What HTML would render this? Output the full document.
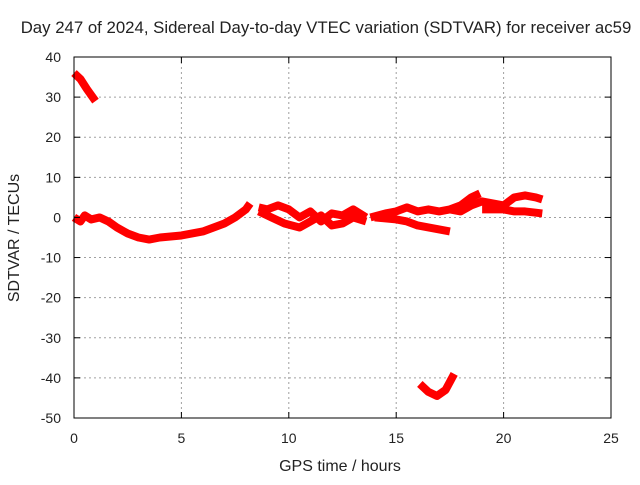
<!DOCTYPE html>
<html><head><meta charset="utf-8"><style>
body{margin:0;background:#fff}
svg text{font-family:"Liberation Sans",sans-serif;font-size:14px;fill:#222}
svg text.big{font-size:16px}
svg text.title{font-size:16.8px}
</style></head><body>
<svg id="chart" width="640" height="480" xmlns="http://www.w3.org/2000/svg">
<rect width="640" height="480" fill="#fff"/>
<g id="grid"></g>
<g id="series"></g>
<rect x="74" y="57" width="537" height="361" fill="none" stroke="#000" stroke-width="1"/>
<g id="ticks"></g>
<text class="title" x="326" y="33" text-anchor="middle">Day 247 of 2024, Sidereal Day-to-day VTEC variation (SDTVAR) for receiver ac59</text>
<text class="big" x="340" y="471" text-anchor="middle">GPS time / hours</text>
<text class="big" transform="translate(19,238) rotate(-90)" text-anchor="middle">SDTVAR / TECUs</text>
</svg>
<script>
const xTicks=[0,5,10,15,20,25];
const yTicks=[40,30,20,10,0,-10,-20,-30,-40,-50];
const sTop=[[0,36],[0.3,34.5],[0.6,32],[1.0,29]];
const sMain=[[0,0],[0.3,-1],[0.5,0.5],[0.8,-0.5],[1.2,0],[1.6,-1],[2,-2.5],[2.5,-4],[3,-5],[3.5,-5.5],[4,-5],[5,-4.5],[6,-3.5],[7,-1.5],[7.5,0],[8,2],[8.2,3.5]];
const sC=[[8.6,1.5],[9.2,0],[9.8,-1.5],[10.5,-2.5],[11,-1],[11.5,0.5],[12,-2],[12.5,-1.5],[13,0],[13.6,-1]];
const sD=[[8.6,2.5],[9,2],[9.5,3],[10,2],[10.5,0],[11,1.5],[11.5,-1],[12,1],[12.5,0.5],[13,2],[13.6,0]];
const sE=[[13.8,0],[14.5,1],[15,1.5],[15.5,2.5],[16,1.5],[16.5,2],[17,1.5],[17.5,2],[18,3],[18.5,5],[18.9,6]];
const sF=[[14,0],[15,-0.5],[15.5,-1],[16,-2],[16.5,-2.5],[17,-3],[17.5,-3.5]];
const sG=[[17.5,2],[18,1.5],[18.5,3],[19,4],[19.5,3.5],[20,3],[20.5,5],[21,5.5],[21.5,5],[21.8,4.5]];
const sH=[[19,2],[19.5,2],[20,2],[20.5,1.5],[21,1.5],[21.8,1]];
const sDip=[[16.1,-41.5],[16.5,-43.5],[16.9,-44.5],[17.3,-43],[17.7,-39]];
const allSeries=[sTop,sMain,sC,sD,sE,sF,sG,sH,sDip];
const NS="http://www.w3.org/2000/svg";
const X=v=>74+v*(537/25), Y=v=>418-(v+50)*(361/90);
const grid=document.getElementById('grid'),ticks=document.getElementById('ticks'),ser=document.getElementById('series');
function mk(t,a,p){const e=document.createElementNS(NS,t);for(const k in a)e.setAttribute(k,a[k]);p.appendChild(e);return e;}
xTicks.forEach(t=>{const x=X(t);
 if(t>0&&t<25){const g=mk('line',{x1:x,x2:x,y1:57,y2:418,stroke:'#a0a0a0','stroke-dasharray':'2,3'},grid);
 
 }
 mk('line',{x1:x,x2:x,y1:418,y2:412,stroke:'#000'},ticks);mk('line',{x1:x,x2:x,y1:57,y2:63,stroke:'#000'},ticks);
 const l=mk('text',{x:x,y:443,'text-anchor':'middle'},ticks);l.textContent=t;
 
 });
yTicks.forEach(t=>{const y=Y(t);
 if(t>-50&&t<40){const g=mk('line',{x1:74,x2:611,y1:y,y2:y,stroke:'#a0a0a0','stroke-dasharray':'2,3'},grid);
 
 }
 mk('line',{x1:74,x2:80,y1:y,y2:y,stroke:'#000'},ticks);mk('line',{x1:611,x2:605,y1:y,y2:y,stroke:'#000'},ticks);
 const l=mk('text',{x:61,y:y+5,'text-anchor':'end'},ticks);l.textContent=t;
 
 });
allSeries.forEach(s=>{const p=mk('polyline',{points:s.map(d=>X(d[0])+','+Y(d[1])).join(' '),fill:'none',stroke:'#ff0000','stroke-width':8,'stroke-linejoin':'round','stroke-linecap':'butt'},ser);
 
 });
</script>
</body></html>
